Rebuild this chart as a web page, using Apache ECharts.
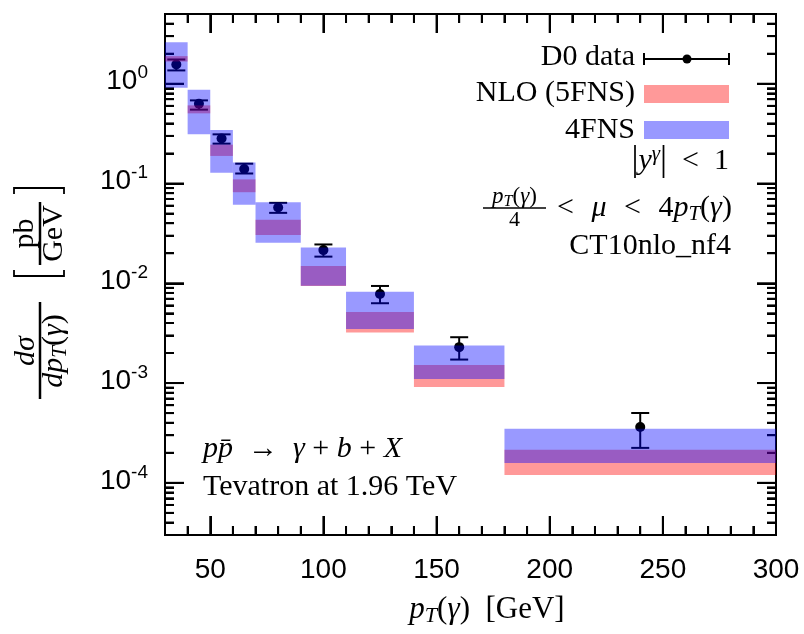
<!DOCTYPE html>
<html><head><meta charset="utf-8">
<script src="https://cdn.jsdelivr.net/npm/echarts@6/dist/echarts.min.js"></script>
<style>html,body{margin:0;padding:0;background:#fff}#c{width:804px;height:634px}</style>
</head><body><div id="c"></div>
<script>
// ---- data ----
const binLow  = [30, 40, 50, 60, 70, 90, 110, 140, 180];
const binHigh = [40, 50, 60, 70, 90, 110, 140, 180, 300];
const d0X   = [35, 45, 55, 65, 80, 100, 125, 160, 240];
const d0Y   = [1.56, 0.631, 0.282, 0.140, 0.0575, 0.0215, 0.00782, 0.00229, 0.000363];
const d0Lo  = [1.36, 0.55, 0.251, 0.126, 0.0508, 0.0185, 0.00631, 0.00172, 0.000224];
const d0Hi  = [1.75, 0.681, 0.311, 0.158, 0.064, 0.0245, 0.0094, 0.00288, 0.000501];
const nloLo = [1.67, 0.505, 0.189, 0.0818, 0.0304, 0.0094, 0.00321, 0.000912, 0.00012];
const nloHi = [1.89, 0.607, 0.245, 0.110, 0.0433, 0.0149, 0.00516, 0.00152, 0.000215];
const ffnsLo = [0.912, 0.311, 0.128, 0.0611, 0.0255, 0.00946, 0.00349, 0.0011, 0.000158];
const ffnsHi = [2.61, 0.871, 0.344, 0.162, 0.065, 0.0229, 0.00824, 0.00238, 0.000349];
const xTickLabels = [50, 100, 150, 200, 250, 300];
const yTickExponents = [0, -1, -2, -3, -4];

const X_MIN = 30, X_MAX = 300, Y_MIN = 3e-5, Y_MAX = 5;

// ---- tick positions ----
const xMajorTicks = xTickLabels.filter(v => v < X_MAX);
const xMinorTicks = [], yMinorTicks = [];
for (let v = 40; v < X_MAX; v += 10) if (v % 50 !== 0) xMinorTicks.push(v);
for (let e = -5; e <= 0; e++) {
  for (let k = 2; k <= 9; k++) {
    const v = k * Math.pow(10, e);
    if (v > Y_MIN * 1.001 && v < Y_MAX * 0.999) yMinorTicks.push(v);
  }
}
const yMajorTicks = yTickExponents.map(e => Math.pow(10, e));
const labelData = xTickLabels.map(v => [0, v]).concat(yTickExponents.map(e => [1, Math.pow(10, e)]));

const SERIF = '"Liberation Serif", "Times New Roman", serif';
const SANS = '"Liberation Sans", Arial, sans-serif';

function mathRich(fs, lh) {
  lh = lh || 34;
  const small = Math.round(fs * 0.7);
  return {
    r: {fontFamily: SERIF, fontSize: fs, lineHeight: lh, color: '#000'},
    i: {fontFamily: SERIF, fontSize: fs, fontStyle: 'italic', lineHeight: lh, color: '#000'},
    bar: {fontFamily: SERIF, fontSize: Math.round(fs * 1.15), lineHeight: lh, color: '#000'},
    sub: {fontFamily: SERIF, fontSize: small, fontStyle: 'italic', lineHeight: Math.round(lh * 0.65), verticalAlign: 'bottom', color: '#000'},
    sup: {fontFamily: SERIF, fontSize: small, fontStyle: 'italic', lineHeight: Math.round(lh * 0.5), verticalAlign: 'top', color: '#000'}
  };
}
function txt(text, x, y, align, fs, lh) {
  return {
    type: 'text', z: 20, silent: true,
    style: {text: text, x: x, y: y, rich: mathRich(fs, lh), fill: '#000',
      font: fs + 'px ' + SERIF,
      align: align, verticalAlign: 'middle', textAlign: align, textVerticalAlign: 'middle'}
  };
}

const boxData = (lo, hi) => binLow.map((b, i) => [b, binHigh[i], lo[i], hi[i]]);

function renderBox(color) {
  return function (params, api) {
    const p0 = api.coord([api.value(0), api.value(3)]);
    const p1 = api.coord([api.value(1), api.value(2)]);
    return {type: 'rect', shape: {x: p0[0], y: p0[1], width: p1[0] - p0[0], height: p1[1] - p0[1]},
      style: {fill: color}};
  };
}

function seg(x1, y1, x2, y2) {
  return {type: 'line', shape: {x1: x1, y1: y1, x2: x2, y2: y2}, style: {stroke: '#000', lineWidth: 2}};
}

// inward ticks on all four sides, placed through the axes' own coordinate mapping
function tickElements(api) {
  const out = [];
  const addX = (v, len) => {
    const b = api.coord([v, Y_MIN]), t = api.coord([v, Y_MAX]);
    out.push(seg(b[0], b[1], b[0], b[1] - len));
    out.push(seg(t[0], t[1], t[0], t[1] + len));
  };
  const addY = (v, len) => {
    const l = api.coord([X_MIN, v]), r = api.coord([X_MAX, v]);
    out.push(seg(l[0], l[1], l[0] + len, l[1]));
    out.push(seg(r[0], r[1], r[0] - len, r[1]));
  };
  xMajorTicks.forEach(v => addX(v, 19));
  xMinorTicks.forEach(v => addX(v, 9));
  yMajorTicks.forEach(v => addY(v, 19));
  yMinorTicks.forEach(v => addY(v, 9));
  return out;
}

function renderLabels(params, api) {
  const kind = api.value(0), v = api.value(1);
  if (kind === 0) {
    const p = api.coord([v, Y_MIN]);
    return {type: 'text', x: p[0], y: p[1] + 35,
      style: {text: String(v), font: '28px ' + SANS, fill: '#000', align: 'center', verticalAlign: 'middle',
        textAlign: 'center', textVerticalAlign: 'middle'}};
  }
  const p = api.coord([X_MIN, v]);
  const e = Math.round(Math.log10(v));
  return {type: 'text', x: p[0] - 17, y: p[1] - 2,
    style: {text: '{b|10}{s|' + e + '}', fill: '#000', align: 'right', verticalAlign: 'middle',
      textAlign: 'right', textVerticalAlign: 'middle',
      rich: {
        b: {fontFamily: SANS, fontSize: 28, lineHeight: 36, color: '#000'},
        s: {fontFamily: SANS, fontSize: 19, lineHeight: 19, verticalAlign: 'top', color: '#000'}
      }}};
}

function renderErr(params, api) {
  const x = api.value(0);
  const pc = api.coord([x, api.value(1)]);
  const pl = api.coord([x, api.value(2)]);
  const ph = api.coord([x, api.value(3)]);
  const children = [
    seg(pl[0], pl[1], ph[0], ph[1]),
    seg(ph[0] - 9, ph[1], ph[0] + 9, ph[1]),
    seg(pl[0] - 9, pl[1], pl[0] + 9, pl[1]),
    {type: 'circle', shape: {cx: pc[0], cy: pc[1], r: 5}, style: {fill: '#000'}}
  ];
  if (params.dataIndex === 0) Array.prototype.push.apply(children, tickElements(api));
  return {type: 'group', children: children};
}

const RED = 'rgba(255,0,0,0.4)', BLUE = 'rgba(0,0,255,0.4)';

const graphic = [
  // legend
  txt('{r|D0 data}', 635, 57, 'right', 30),
  {type: 'line', z: 20, shape: {x1: 644, y1: 59, x2: 729, y2: 59}, style: {stroke: '#000', lineWidth: 2}},
  {type: 'line', z: 20, shape: {x1: 644, y1: 53, x2: 644, y2: 65}, style: {stroke: '#000', lineWidth: 2}},
  {type: 'line', z: 20, shape: {x1: 729, y1: 53, x2: 729, y2: 65}, style: {stroke: '#000', lineWidth: 2}},
  {type: 'circle', z: 20, shape: {cx: 687, cy: 59, r: 4.5}, style: {fill: '#000'}},
  txt('{r|NLO (5FNS)}', 635, 93, 'right', 30),
  {type: 'rect', z: 20, shape: {x: 644, y: 85, width: 85, height: 18}, style: {fill: RED}},
  txt('{r|4FNS}', 635, 130, 'right', 30),
  {type: 'rect', z: 20, shape: {x: 644, y: 121, width: 85, height: 18}, style: {fill: BLUE}},
  txt('{bar||}{i|y}{sup|γ}{bar||}{r|  <  1}', 729, 161, 'right', 30),
  {type: 'line', z: 20, shape: {x1: 483, y1: 208, x2: 546, y2: 208}, style: {stroke: '#000', lineWidth: 1.6}},
  txt('{i|p}{sub|T}{r|(}{i|γ}{r|)}', 514.5, 197, 'center', 23, 26),
  txt('{r|4}', 514.5, 220, 'center', 22, 26),
  txt('{r|<\u2002\u200A}{i|μ}{r|\u2002\u200A<\u2002\u200A4}{i|p}{sub|T}{r|(}{i|γ}{r|)}', 557, 208, 'left', 30),
  txt('{r|CT10nlo_nf4}', 731, 246, 'right', 30),
  // process text
  txt('{i|pp̄}{r|  →  }{i|γ}{r| + }{i|b}{r| + }{i|X}', 203, 449, 'left', 30),
  txt('{r|Tevatron at 1.96 TeV}', 203, 487, 'left', 30),
  // x axis title
  txt('{i|p}{sub|T}{r|(}{i|γ}{r|)  [GeV]}', 487, 610, 'center', 31),
  // y axis title (rotated)
  {type: 'group', x: 40, y: 300, rotation: Math.PI / 2, z: 20, children: [
    {type: 'line', shape: {x1: -99, y1: 0, x2: -2, y2: 0}, style: {stroke: '#000', lineWidth: 2.5}},
    txt('{i|dσ}', -51, -14, 'center', 30),
    txt('{i|dp}{sub|T}{r|(}{i|γ}{r|)}', -51, 14, 'center', 30),
    {type: 'line', shape: {x1: 35, y1: 0, x2: 98, y2: 0}, style: {stroke: '#000', lineWidth: 2.5}},
    txt('{r|pb}', 66.5, -15, 'center', 30),
    txt('{r|GeV}', 66.5, 14, 'center', 30),
    {type: 'polyline', shape: {points: [[30, -26], [24, -26], [24, 24], [30, 24]]}, style: {stroke: '#000', lineWidth: 1.8, fill: null}},
    {type: 'polyline', shape: {points: [[106, -26], [112, -26], [112, 24], [106, 24]]}, style: {stroke: '#000', lineWidth: 1.8, fill: null}}
  ]}
];

// ---- axes: index 0 carries the data; the others only add inward ticks on each side ----
function tickAxis(type, position, values, len, isLog) {
  const a = {
    type: type, position: position, min: isLog ? Y_MIN : X_MIN, max: isLog ? Y_MAX : X_MAX,
    axisLine: {show: false}, splitLine: {show: false}, axisLabel: {show: false},
    axisTick: {show: true, inside: true, length: len, customValues: values, lineStyle: {color: '#000', width: 2}}
  };
  if (isLog) a.logBase = 10;
  return a;
}
const xAxes = [
  tickAxis('value', 'bottom', xMajorTicks, 19, false),
  tickAxis('value', 'bottom', xMinorTicks, 9, false),
  tickAxis('value', 'top', xMajorTicks, 19, false),
  tickAxis('value', 'top', xMinorTicks, 9, false)
];
const yAxes = [
  tickAxis('log', 'left', yMajorTicks, 19, true),
  tickAxis('log', 'left', yMinorTicks, 9, true),
  tickAxis('log', 'right', yMajorTicks, 19, true),
  tickAxis('log', 'right', yMinorTicks, 9, true)
];

const chart = echarts.init(document.getElementById('c'), null, {renderer: 'canvas'});
chart.setOption({
  animation: false,
  backgroundColor: '#fff',
  grid: {left: 165, right: 28, top: 14, bottom: 99, show: true, borderColor: '#000', borderWidth: 2, backgroundColor: 'transparent'},
  xAxis: xAxes,
  yAxis: yAxes,
  graphic: graphic,
  series: [
    {type: 'custom', name: 'axis labels', silent: true, z: 2, renderItem: renderLabels, data: labelData, clip: false, encode: {x: 1, y: 1}},
    {type: 'custom', name: 'D0 data', silent: true, z: 2, renderItem: renderErr, clip: true,
      data: d0X.map((x, i) => [x, d0Y[i], d0Lo[i], d0Hi[i]]), encode: {x: 0, y: [1, 2, 3]}},
    {type: 'custom', name: 'NLO (5FNS)', silent: true, z: 3, renderItem: renderBox(RED), clip: true,
      data: boxData(nloLo, nloHi), encode: {x: [0, 1], y: [2, 3]}},
    {type: 'custom', name: '4FNS', silent: true, z: 4, renderItem: renderBox(BLUE), clip: true,
      data: boxData(ffnsLo, ffnsHi), encode: {x: [0, 1], y: [2, 3]}}
  ]
});
</script></body></html>
